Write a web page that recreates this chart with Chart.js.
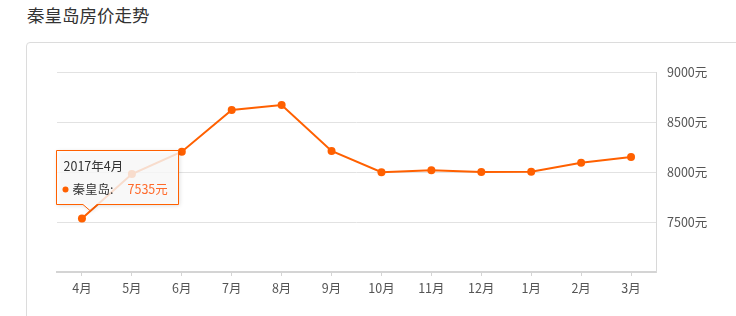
<!DOCTYPE html>
<html>
<head>
<meta charset="utf-8">
<script src="https://cdn.jsdelivr.net/npm/chart.js@4.4.1/dist/chart.umd.min.js"></script>
<style>
  html, body { margin: 0; padding: 0; background: #fff; overflow: hidden; }
  #wrap { position: relative; width: 736px; height: 316px; overflow: hidden; }
  #title { position: absolute; left: 27px; top: 2px; font: 17.5px "Noto Sans CJK SC", sans-serif; color: #333; }
  #card { position: absolute; left: 26px; top: 42px; width: 900px; height: 400px; border: 1px solid #dcdcdc; border-radius: 4px; }
  #chart { position: absolute; left: 0; top: 0; }
</style>
</head>
<body>
<div id="wrap">
  <div id="title">秦皇岛房价走势</div>
  <div id="card"></div>
  <canvas id="chart" width="736" height="316"></canvas>
</div>
<script>
var months = ['4月', '5月', '6月', '7月', '8月', '9月', '10月', '11月', '12月', '1月', '2月', '3月'];
var prices = [7535, 7980, 8203, 8620, 8670, 8210, 7998, 8017, 8000, 8003, 8093, 8150];
var yTicks = [7000, 7500, 8000, 8500, 9000];
var cityName = '秦皇岛';
var tipTitle = '2017年4月';
var tipIndex = 0;

var orange = '#ff6000';
var fontFamily = '"Noto Sans CJK SC", sans-serif';

// hand drawn tooltip, placed from the point element of the hovered month
var tipPlugin = {
    id: 'tip',
    afterDatasetsDraw: function (chart) {
        var pt = chart.getDatasetMeta(0).data[tipIndex];
        var ctx = chart.ctx;
        var bx = Math.round(pt.x) - 26 + 0.5;
        var by = Math.round(pt.y) - 69 + 0.5;
        var bw = 122, bh = 54;
        var cx = pt.x + 8;

        ctx.save();
        ctx.beginPath();
        ctx.moveTo(bx, by);
        ctx.lineTo(bx + bw, by);
        ctx.lineTo(bx + bw, by + bh);
        ctx.lineTo(cx + 7, by + bh);
        ctx.lineTo(cx, by + bh + 6);
        ctx.lineTo(cx - 7, by + bh);
        ctx.lineTo(bx, by + bh);
        ctx.closePath();
        ctx.shadowColor = 'rgba(0,0,0,0.18)';
        ctx.shadowBlur = 4;
        ctx.shadowOffsetX = 1;
        ctx.shadowOffsetY = 1;
        ctx.fillStyle = 'rgba(255,255,255,0.8)';
        ctx.fill();
        ctx.shadowColor = 'transparent';
        ctx.strokeStyle = orange;
        ctx.lineWidth = 1;
        ctx.stroke();

        ctx.textBaseline = 'middle';
        ctx.textAlign = 'left';
        ctx.font = '12.5px ' + fontFamily;
        ctx.fillStyle = '#333';
        ctx.fillText(tipTitle, bx + 7, by + 16);

        ctx.beginPath();
        ctx.arc(bx + 9, by + 39, 3, 0, Math.PI * 2);
        ctx.fillStyle = orange;
        ctx.fill();

        ctx.fillStyle = '#333';
        ctx.fillText(cityName + ':', bx + 16, by + 39);
        ctx.fillStyle = '#ff6a2b';
        ctx.fillText(prices[tipIndex] + '元', bx + 71, by + 39);
        ctx.restore();
    }
};

var chartEl = document.getElementById('chart');
var priceChart = new Chart(chartEl, {
    type: 'line',
    data: {
        labels: months,
        datasets: [{
            label: cityName,
            data: prices,
            borderColor: orange,
            backgroundColor: orange,
            borderWidth: 2,
            pointRadius: 4,
            pointBorderWidth: 0,
            pointBackgroundColor: orange,
            tension: 0
        }]
    },
    options: {
        responsive: false,
        animation: false,
        layout: { padding: { left: 57, top: 72, right: 0, bottom: 0 } },
        plugins: {
            legend: { display: false },
            tooltip: { enabled: false }
        },
        scales: {
            x: {
                offset: true,
                grid: { drawOnChartArea: false, drawTicks: true, tickLength: 4, color: '#d4d4d4' },
                border: { color: '#d4d4d4', width: 2 },
                ticks: { color: '#555', padding: 5, maxRotation: 0, autoSkip: false, font: { size: 12.5, family: fontFamily } },
                afterFit: function (s) { s.height = 44; }
            },
            y: {
                position: 'right',
                min: 7000,
                max: 9000,
                afterBuildTicks: function (s) {
                    s.ticks = yTicks.map(function (v) { return { value: v }; });
                },
                ticks: {
                    color: '#555',
                    padding: 11,
                    font: { size: 12.5, family: fontFamily },
                    callback: function (v) { return v === 7000 ? '' : v + '元'; }
                },
                grid: { drawTicks: false, color: '#e2e2e2' },
                border: { display: true, color: '#d8d8d8' },
                afterFit: function (s) { s.width = 80; }
            }
        }
    },
    plugins: [tipPlugin]
});
</script>
</body>
</html>
